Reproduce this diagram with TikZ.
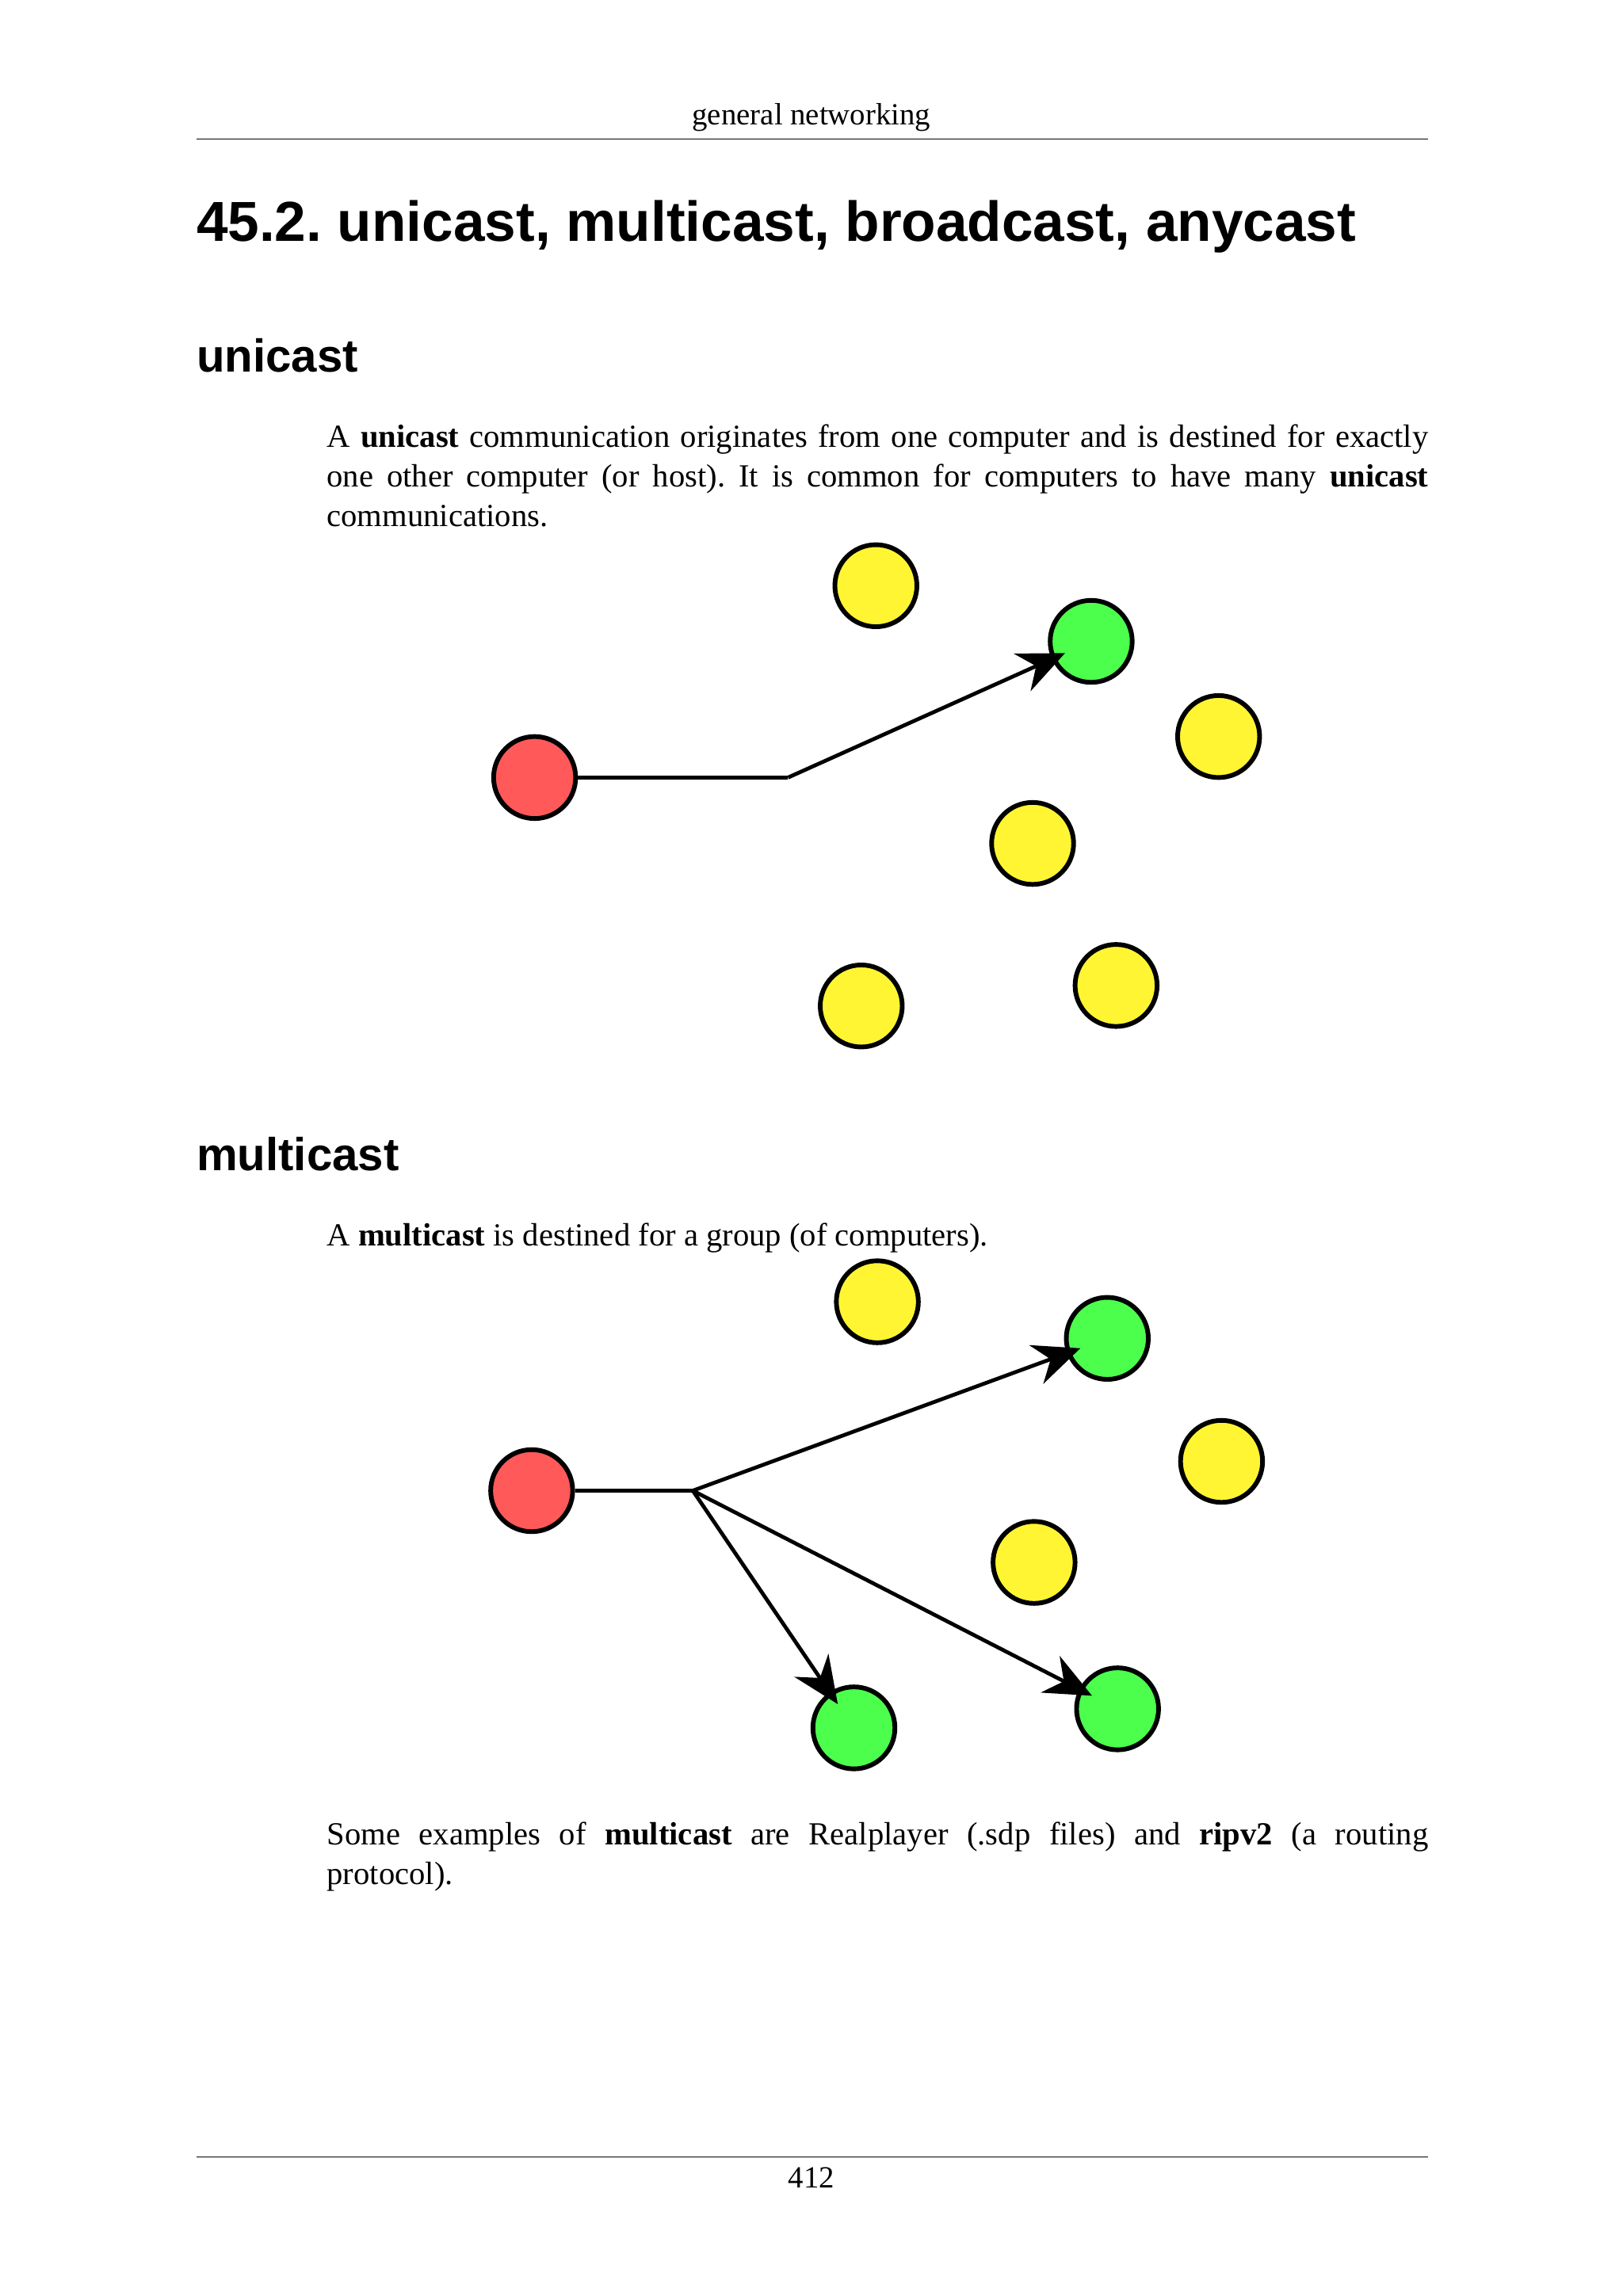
\documentclass[tikz,border=0pt]{standalone}
\usepackage{fontspec}
\setmainfont{Liberation Serif}
\newfontfamily\hsans{Liberation Sans}
\usetikzlibrary{arrows.meta}
\hyphenpenalty=10000
\frenchspacing
\begin{document}
\begin{tikzpicture}[x=1pt,y=-1pt,
  host/.style={circle,draw=black,line width=3.2pt,minimum size=56pt,inner sep=0pt},
  yel/.style={host,fill=yellow!80!white},
  grn/.style={host,fill=green!70!white},
  redh/.style={host,fill=red!65!white},
  link/.style={line width=2.6pt},
  arr/.style={link,-{Stealth[length=32pt,width=28pt]},shorten >=-10pt},
  body/.style={anchor=north west,text width=752pt,align=justify,inner sep=0pt,font=\fontsize{22}{27}\selectfont},
  rule/.style={line width=0.8pt}]
\useasboundingbox (0,0) rectangle (1108,1568);
\node (hdr) at (554,80) {\fontsize{21}{24}\selectfont general networking};
\coordinate (r1a) at (134,95); \coordinate (r1b) at (975,95);
\draw[rule] (r1a) -- (r1b);
\node[anchor=west,inner sep=0pt] (title) at (134,155) {\hsans\bfseries\fontsize{38.5}{44}\selectfont 45.2. unicast, multicast, broadcast, anycast};
\node[anchor=west,inner sep=0pt] (h1) at (134,243) {\hsans\bfseries\fontsize{31.5}{34}\selectfont unicast};
\node[body] (t1) at (223,290) {\hyphenpenalty=10000\relax A \textbf{unicast} communication originates from one computer and is destined for exactly\linebreak one other computer (or host). It is common for computers to have many \textbf{unicast}\linebreak communications.};
\node[redh] (ur) at (365,531) {};
\node[yel] (uy1) at (598,400) {};
\node[grn] (ug) at (745,438) {};
\node[yel] (uy2) at (832,503) {};
\node[yel] (uy3) at (705,576) {};
\node[yel] (uy4) at (588,687) {};
\node[yel] (uy5) at (762,673) {};
\coordinate (ub) at (538,531);
\draw[link] (ur) -- (ub);
\draw[arr] (ub) -- (ug);
\node[anchor=west,inner sep=0pt] (h2) at (134,788) {\hsans\bfseries\fontsize{31.5}{34}\selectfont multicast};
\node[body] (t2) at (223,835) {A \textbf{multicast} is destined for a group (of computers).};
\node[redh] (mr) at (363,1018) {};
\node[yel] (my1) at (599,889) {};
\node[grn] (mg1) at (756,914) {};
\node[yel] (my2) at (834,998) {};
\node[yel] (my3) at (706,1067) {};
\node[grn] (mg2) at (583,1180) {};
\node[grn] (mg3) at (763,1167) {};
\coordinate (mb) at (473,1018);
\draw[link] (mr) -- (mb);
\draw[arr] (mb) -- (mg1);
\draw[arr] (mb) -- (mg2);
\draw[arr] (mb) -- (mg3);
\node[body] (t3) at (223,1244) {\hyphenpenalty=10000\relax Some examples of \textbf{multicast} are Realplayer (.sdp files) and \textbf{ripv2} (a routing\linebreak protocol).};
\coordinate (r2a) at (134,1473); \coordinate (r2b) at (975,1473);
\draw[rule] (r2a) -- (r2b);
\node (pg) at (554,1487) {\fontsize{21}{24}\selectfont 412};
\end{tikzpicture}
\end{document}
